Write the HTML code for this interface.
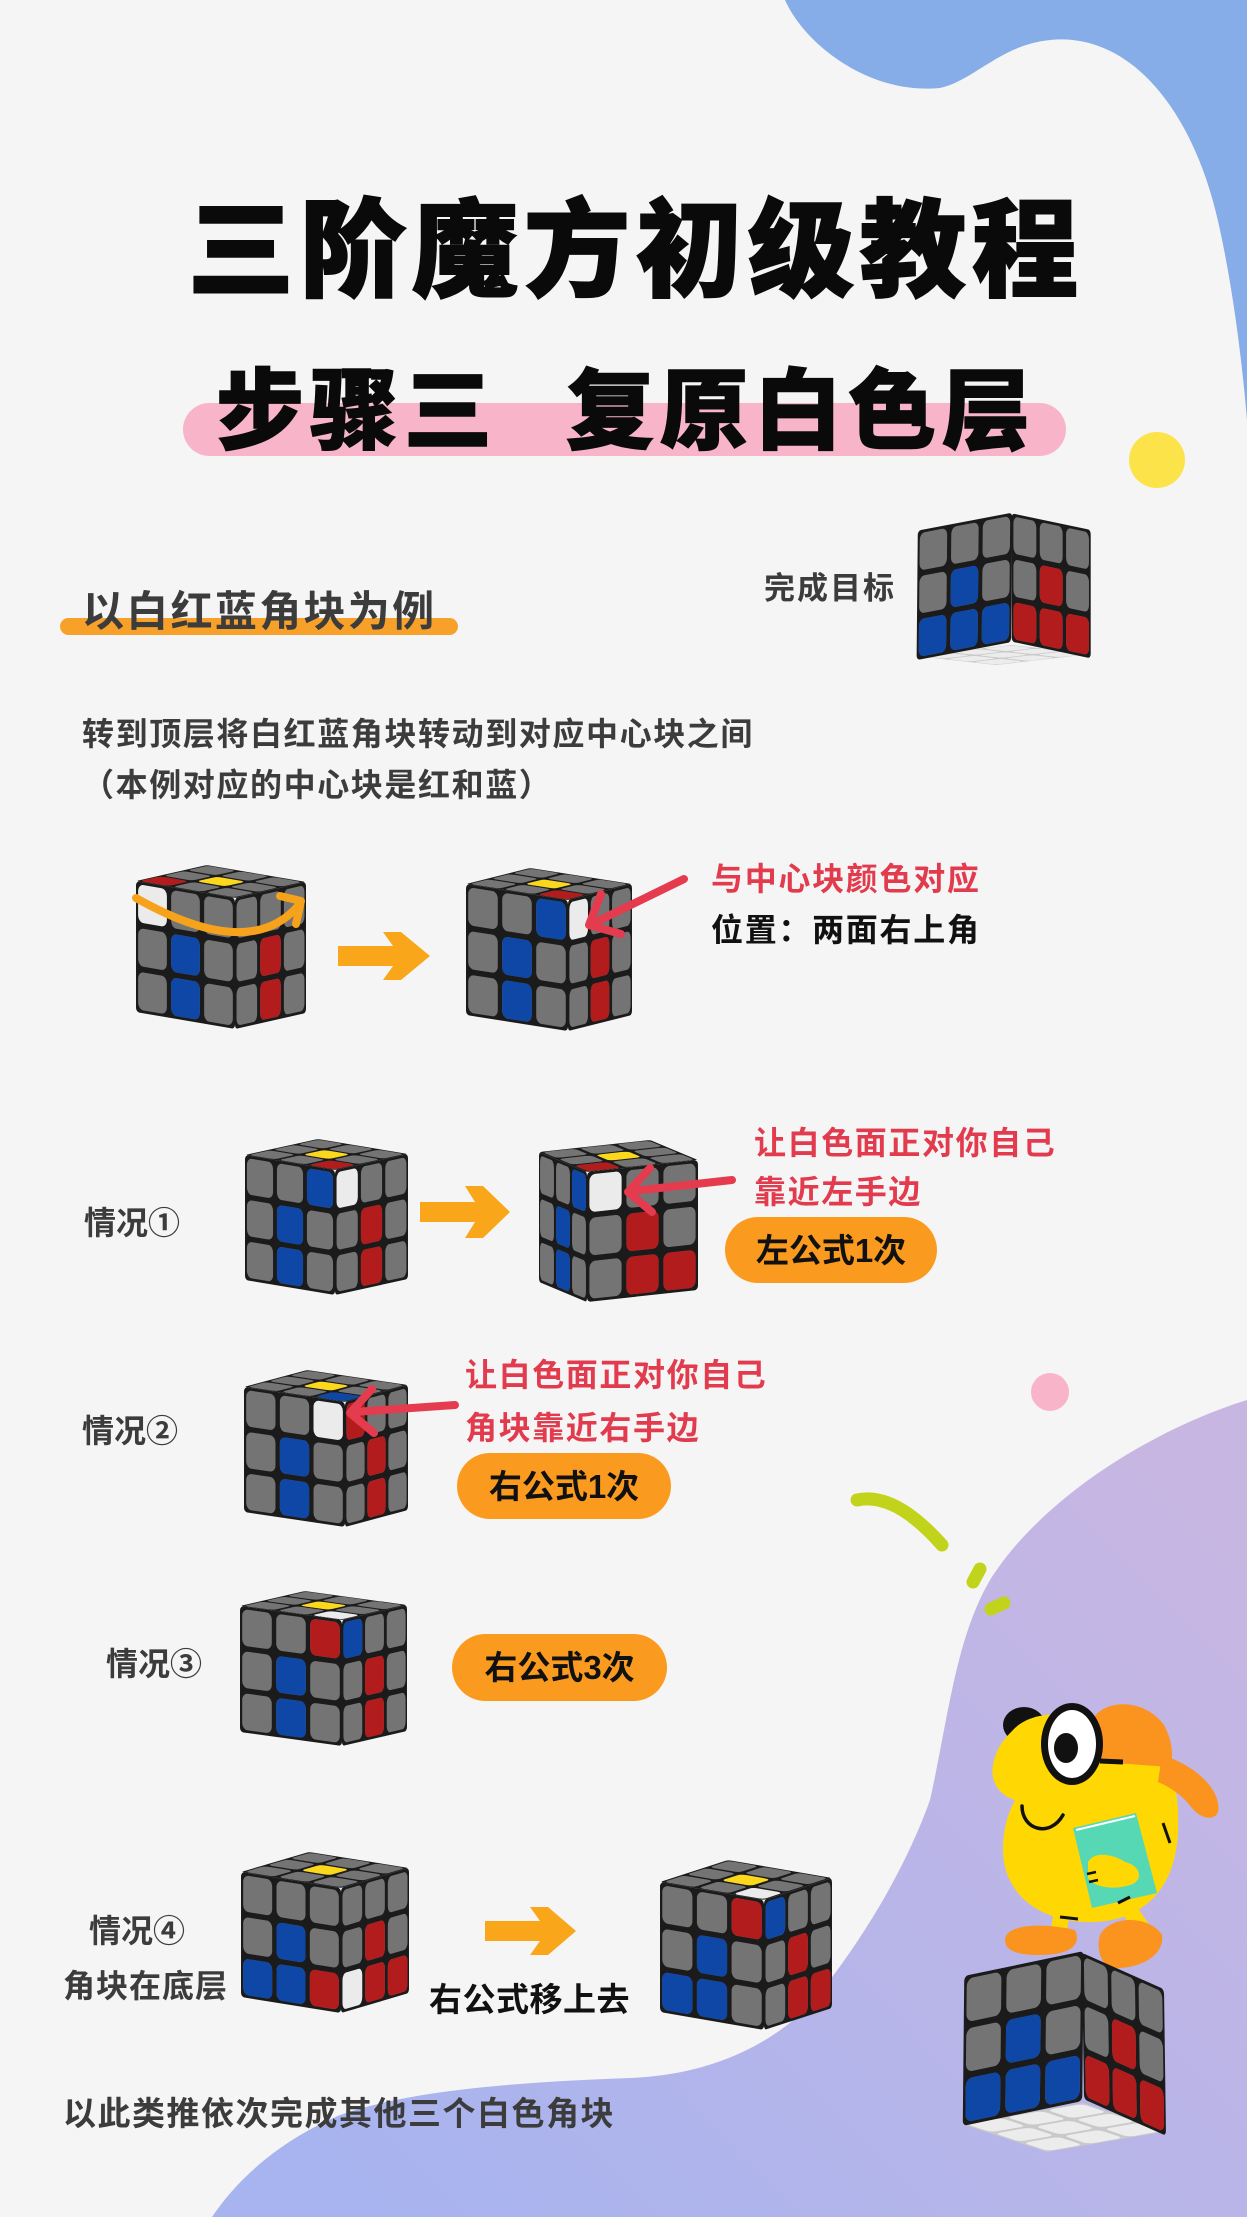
<!DOCTYPE html>
<html><head><meta charset="utf-8">
<style>
html,body{margin:0;padding:0}
body{width:1247px;height:2217px;position:relative;background:#f5f5f5;overflow:hidden;font-family:"Liberation Sans","Noto Sans CJK SC",sans-serif}
svg.bg{position:absolute;left:0;top:0}
.t{position:absolute;white-space:nowrap;line-height:1;font-weight:700}
.g{color:#3c3c3c}
.r{color:#e23b4e}
.k{color:#111}
.pill{position:absolute;background:#fa9b20;border-radius:40px;display:flex;align-items:center;justify-content:center;font-weight:700;font-size:33px;color:#111;line-height:1;white-space:nowrap}
.cb{fill:#0f47a7}.cr{fill:#b31c1c}.cw{fill:#ebebeb}.cy{fill:#fcd81d}
</style></head><body>
<svg class="bg" width="1247" height="2217" viewBox="0 0 1247 2217">
<defs>
<linearGradient id="wg" x1="1150" y1="1420" x2="350" y2="2217" gradientUnits="userSpaceOnUse"><stop offset="0" stop-color="#c8b6e2"/><stop offset="1" stop-color="#a7b4ef"/></linearGradient>
<rect id="s" x=".065" y=".065" width=".87" height=".87" rx=".16"/>
<g id="F" fill="#747474"><rect width="3" height="3" rx=".1" fill="#1b1b1b"/><use href="#s"/><use href="#s" x="1"/><use href="#s" x="2"/><use href="#s" y="1"/><use href="#s" x="1" y="1"/><use href="#s" x="2" y="1"/><use href="#s" y="2"/><use href="#s" x="1" y="2"/><use href="#s" x="2" y="2"/></g>
<g id="Wf" fill="#ececec"><rect width="3" height="3" fill="#c9c9c9"/><use href="#s"/><use href="#s" x="1"/><use href="#s" x="2"/><use href="#s" y="1"/><use href="#s" x="1" y="1"/><use href="#s" x="2" y="1"/><use href="#s" y="2"/><use href="#s" x="1" y="2"/><use href="#s" x="2" y="2"/></g>
</defs>

<path d="M785,0 C805,45 870,95 940,88 C975,80 1000,45 1050,40 C1130,32 1195,110 1220,230 C1233,290 1242,360 1247,420 L1247,0 Z" fill="#86ade8"/>
<path d="M1247,1400 C1150,1430 1040,1500 990,1580 C955,1640 948,1720 930,1800 C905,1870 860,1945 810,2005 C770,2045 710,2075 630,2078 C520,2082 410,2090 340,2115 C285,2138 240,2175 212,2217 L1247,2217 Z" fill="url(#wg)"/>

<rect x="183" y="403" width="883" height="53" rx="26.5" fill="#f8b5ca"/>
<circle cx="1157" cy="460" r="28" fill="#fde34a"/>
<rect x="60" y="618" width="398" height="17" rx="8.5" fill="#f7a12b"/>
<circle cx="1050" cy="1392" r="19" fill="#f8b4c9"/>

<path d="M857,1500 Q894.5,1491.5 942,1545" fill="none" stroke="#c2d31b" stroke-width="13" stroke-linecap="round"/>
<path d="M973,1582 L980,1569" stroke="#c2d31b" stroke-width="13" stroke-linecap="round"/>
<path d="M991,1609 L1004,1603" stroke="#c2d31b" stroke-width="13" stroke-linecap="round"/>

<!-- Target cube -->
<g transform="matrix(-31.667 3.667 26.667 3 1011 645)"><use href="#Wf"/></g>
<g transform="matrix(31.5 -5.967 -0.4 43.167 917.8 530.6)"><use href="#F"/><use href="#s" x="1" y="1" class="cb"/><use href="#s" y="2" class="cb"/><use href="#s" x="1" y="2" class="cb"/><use href="#s" x="2" y="2" class="cb"/></g>
<g transform="matrix(26.333 5.55 0 42.783 1011.7 513.3)"><use href="#F"/><use href="#s" x="1" y="1" class="cr"/><use href="#s" y="2" class="cr"/><use href="#s" x="1" y="2" class="cr"/><use href="#s" x="2" y="2" class="cr"/></g>

<!-- Cube1 -->
<g transform="matrix(33 5.667 -23.667 5.333 207 865)"><use href="#F"/><use href="#s" y="2" class="cr"/><use href="#s" x="1" y="1" class="cy"/></g>
<g transform="matrix(33 5.667 0 43.667 136 881)"><use href="#F"/><use href="#s" class="cw"/><use href="#s" x="1" y="1" class="cb"/><use href="#s" x="1" y="2" class="cb"/></g>
<g transform="matrix(23.667 -5.333 0 43.667 235 898)"><use href="#F"/><use href="#s" x="1" y="1" class="cr"/><use href="#s" x="1" y="2" class="cr"/></g>
<path d="M136,898 Q249,962 298,906" fill="none" stroke="#f6a31b" stroke-width="8" stroke-linecap="round"/>
<polyline points="280,896 301,901 296,924" fill="none" stroke="#f6a31b" stroke-width="8" stroke-linecap="round" stroke-linejoin="round"/>

<!-- Cube2 -->
<g transform="matrix(34 5.333 -21.333 5.333 530 868)"><use href="#F"/><use href="#s" x="2" y="2" class="cr"/><use href="#s" x="1" y="1" class="cy"/></g>
<g transform="matrix(34 5.333 0 43.667 466 884)"><use href="#F"/><use href="#s" x="2" class="cb"/><use href="#s" x="1" y="1" class="cb"/><use href="#s" x="1" y="2" class="cb"/></g>
<g transform="matrix(21.333 -5.333 0 43.667 568 900)"><use href="#F"/><use href="#s" class="cw"/><use href="#s" x="1" y="1" class="cr"/><use href="#s" x="1" y="2" class="cr"/></g>

<!-- Cube A -->
<g transform="matrix(30 5 -24.333 5.333 318 1139)"><use href="#F"/><use href="#s" x="2" y="2" class="cr"/><use href="#s" x="1" y="1" class="cy"/></g>
<g transform="matrix(30 5 0 41.667 245 1155)"><use href="#F"/><use href="#s" x="2" class="cb"/><use href="#s" x="1" y="1" class="cb"/><use href="#s" x="1" y="2" class="cb"/></g>
<g transform="matrix(24.333 -5.333 0 41.667 335 1170)"><use href="#F"/><use href="#s" class="cw"/><use href="#s" x="1" y="1" class="cr"/><use href="#s" x="1" y="2" class="cr"/></g>

<!-- Cube B -->
<g transform="matrix(16 6.667 -37 4 650 1140)"><use href="#F"/><use href="#s" x="2" y="2" class="cr"/><use href="#s" x="1" y="1" class="cy"/></g>
<g transform="matrix(16 6.667 0 43.333 539 1152)"><use href="#F"/><use href="#s" x="2" class="cb"/><use href="#s" x="1" y="1" class="cb"/><use href="#s" x="1" y="2" class="cb"/></g>
<g transform="matrix(37 -4 0 43.333 587 1172)"><use href="#F"/><use href="#s" class="cw"/><use href="#s" x="1" y="1" class="cr"/><use href="#s" x="1" y="2" class="cr"/><use href="#s" x="2" y="2" class="cr"/></g>

<!-- Cube C -->
<g transform="matrix(33.667 5 -21 5.667 307 1370)"><use href="#F"/><use href="#s" x="2" y="2" class="cb"/><use href="#s" x="1" y="1" class="cy"/></g>
<g transform="matrix(33.667 5 0 41.667 244 1387)"><use href="#F"/><use href="#s" x="2" class="cw"/><use href="#s" x="1" y="1" class="cb"/><use href="#s" x="1" y="2" class="cb"/></g>
<g transform="matrix(21 -5.667 0 41.667 345 1402)"><use href="#F"/><use href="#s" class="cr"/><use href="#s" x="1" y="1" class="cr"/><use href="#s" x="1" y="2" class="cr"/></g>

<!-- Cube D -->
<g transform="matrix(34 4.667 -21.667 5 305 1591)"><use href="#F"/><use href="#s" x="2" y="2" class="cw"/><use href="#s" x="1" y="1" class="cy"/></g>
<g transform="matrix(34 4.667 0 42 240 1606)"><use href="#F"/><use href="#s" x="2" class="cr"/><use href="#s" x="1" y="1" class="cb"/><use href="#s" x="1" y="2" class="cb"/></g>
<g transform="matrix(21.667 -5 0 42 342 1620)"><use href="#F"/><use href="#s" class="cb"/><use href="#s" x="1" y="1" class="cr"/><use href="#s" x="1" y="2" class="cr"/></g>

<!-- Cube E -->
<g transform="matrix(33.333 5.333 -22.667 6.667 309 1852)"><use href="#F"/><use href="#s" x="1" y="1" class="cy"/></g>
<g transform="matrix(33.333 5.333 0 41.667 241 1872)"><use href="#F"/><use href="#s" x="1" y="1" class="cb"/><use href="#s" y="2" class="cb"/><use href="#s" x="1" y="2" class="cb"/><use href="#s" x="2" y="2" class="cr"/></g>
<g transform="matrix(22.667 -6.667 0 41.667 341 1888)"><use href="#F"/><use href="#s" x="1" y="1" class="cr"/><use href="#s" y="2" class="cw"/><use href="#s" x="1" y="2" class="cr"/><use href="#s" x="2" y="2" class="cr"/></g>

<!-- Cube F -->
<g transform="matrix(34.667 6 -22.667 7.333 728 1860)"><use href="#F"/><use href="#s" x="2" y="2" class="cw"/><use href="#s" x="1" y="1" class="cy"/></g>
<g transform="matrix(34.667 6 0 43.333 660 1882)"><use href="#F"/><use href="#s" x="2" class="cr"/><use href="#s" x="1" y="1" class="cb"/><use href="#s" y="2" class="cb"/><use href="#s" x="1" y="2" class="cb"/></g>
<g transform="matrix(22.667 -7.333 0 43.333 764 1900)"><use href="#F"/><use href="#s" class="cb"/><use href="#s" x="1" y="1" class="cr"/><use href="#s" x="1" y="2" class="cr"/><use href="#s" x="2" y="2" class="cr"/></g>

<path d="M338,946 H393 L383,932 H401 L430,956 L401,980 H383 L393,966 H338 Z" fill="#f9a61a"/>
<path d="M420,1202 H475 L465,1186 H483 L510,1212 L483,1238 H465 L475,1222 H420 Z" fill="#f9a61a"/>
<path d="M485,1921 H540 L530,1907 H548 L576,1931 L548,1955 H530 L540,1941 H485 Z" fill="#f9a61a"/>

<g fill="none" stroke="#e43b4f" stroke-width="8" stroke-linecap="round" stroke-linejoin="round">
<path d="M684,879 L594,923"/><polyline points="601,894 589,925 621,934"/>
<path d="M732,1180 L632,1191"/><polyline points="650,1168 628,1192 652,1212"/>
<path d="M455,1405 L354,1412"/><polyline points="372,1389 350,1413 374,1433"/>
</g>

<!-- character -->
<ellipse cx="1024" cy="1725" rx="21" ry="18" fill="#111"/>
<path d="M1062,1912 L1057,1940" stroke="#ffd803" stroke-width="16" stroke-linecap="round"/>
<path d="M1124,1902 L1145,1933" stroke="#ffd803" stroke-width="16" stroke-linecap="round"/>
<path d="M1013,1730 C1030,1712 1060,1712 1085,1718 C1140,1708 1180,1760 1178,1820 C1180,1880 1150,1922 1090,1922 C1035,1922 1003,1890 1003,1850 C1003,1825 1010,1810 1015,1800 C998,1795 990,1780 993,1765 C996,1748 1005,1738 1013,1730 Z" fill="#ffd803"/>
<path d="M1088,1738 C1085,1700 1140,1692 1164,1725 C1172,1740 1174,1755 1170,1767 L1100,1762 Z" fill="#fb931f"/>
<path d="M1162,1755 C1195,1765 1222,1790 1218,1812 C1214,1822 1200,1818 1192,1808 C1182,1795 1170,1787 1158,1782 Z" fill="#fb931f"/>
<ellipse cx="1072" cy="1744" rx="31" ry="41" fill="#111"/>
<ellipse cx="1072" cy="1744" rx="24" ry="34" fill="#fff"/>
<ellipse cx="1066" cy="1748" rx="12" ry="15" fill="#111"/>
<path d="M1100,1761 L1123,1762" stroke="#111" stroke-width="5"/>
<path d="M1022,1806 C1022,1830 1050,1838 1063,1815" fill="none" stroke="#111" stroke-width="3.5" stroke-linecap="round"/>
<path d="M1163,1823 L1170,1843" stroke="#111" stroke-width="3"/>
<polygon points="1073,1828 1136,1813 1157,1893 1092,1908" fill="#56d8b5"/>
<path d="M1076,1830 L1135,1816" stroke="#fff" stroke-width="2"/>
<path d="M1088,1862 C1095,1850 1115,1855 1125,1862 C1140,1865 1145,1880 1130,1885 C1115,1890 1095,1888 1088,1878 Z" fill="#ffd803"/>
<path d="M1087,1874 L1096,1872 M1089,1882 L1098,1880" stroke="#111" stroke-width="2.5"/>
<path d="M1060,1917 L1078,1919 M1118,1903 L1130,1897" stroke="#111" stroke-width="3"/>
<path d="M1005,1940 C1005,1925 1040,1922 1075,1930 C1082,1945 1070,1955 1040,1955 C1015,1955 1005,1950 1005,1940 Z" fill="#fb931f"/>
<path d="M1100,1935 C1110,1915 1150,1915 1162,1935 C1165,1955 1140,1970 1110,1968 C1098,1960 1097,1945 1100,1935 Z" fill="#fb931f"/>

<!-- Big cube G -->
<g transform="matrix(-40.333 7 28.333 9.333 1083 2103)"><use href="#Wf"/></g>
<g transform="matrix(39.833 -8.333 -0.5 50 964.25 1976)"><use href="#F"/><use href="#s" x="1" y="1" class="cb"/><use href="#s" y="2" class="cb"/><use href="#s" x="1" y="2" class="cb"/><use href="#s" x="2" y="2" class="cb"/></g>
<g transform="matrix(27.333 12.167 0.667 48.833 1082 1952.75)"><use href="#F"/><use href="#s" x="1" y="1" class="cr"/><use href="#s" y="2" class="cr"/><use href="#s" x="1" y="2" class="cr"/><use href="#s" x="2" y="2" class="cr"/></g>
</svg>

<div class="t" style="left:188px;top:199px;font-size:106px;letter-spacing:6px;font-weight:900;color:#0a0a0a;-webkit-text-stroke:2px #0a0a0a">三阶魔方初级教程</div>
<div class="t" style="left:216px;top:368px;font-size:88px;letter-spacing:6px;font-weight:900;color:#0a0a0a;-webkit-text-stroke:1.5px #0a0a0a">步骤三</div>
<div class="t" style="left:566px;top:368px;font-size:88px;letter-spacing:6px;font-weight:900;color:#0a0a0a;-webkit-text-stroke:1.5px #0a0a0a">复原白色层</div>

<div class="t g" style="left:82px;top:591px;font-size:42px;letter-spacing:2.3px">以白红蓝角块为例</div>
<div class="t g" style="left:764px;top:573px;font-size:31px;letter-spacing:2px">完成目标</div>
<div class="t g" style="left:82px;top:718px;font-size:32px;letter-spacing:1.6px">转到顶层将白红蓝角块转动到对应中心块之间</div>
<div class="t g" style="left:82px;top:769px;font-size:32px;letter-spacing:1.6px">（本例对应的中心块是红和蓝）</div>

<div class="t r" style="left:711px;top:863px;font-size:32px;letter-spacing:1.7px">与中心块颜色对应</div>
<div class="t k" style="left:711px;top:914px;font-size:32px;letter-spacing:1.7px">位置：两面右上角</div>

<div class="t g" style="left:84px;top:1207px;font-size:32px">情况①</div>
<div class="t r" style="left:754px;top:1127px;font-size:32px;letter-spacing:1.6px">让白色面正对你自己</div>
<div class="t r" style="left:754px;top:1176px;font-size:32px;letter-spacing:1.6px">靠近左手边</div>
<div class="pill" style="left:725px;top:1217px;width:212px;height:66px">左公式1次</div>

<div class="t g" style="left:82px;top:1415px;font-size:32px">情况②</div>
<div class="t r" style="left:465px;top:1359px;font-size:32px;letter-spacing:1.6px">让白色面正对你自己</div>
<div class="t r" style="left:465px;top:1412px;font-size:32px;letter-spacing:1.6px">角块靠近右手边</div>
<div class="pill" style="left:457px;top:1453px;width:214px;height:66px">右公式1次</div>

<div class="t g" style="left:106px;top:1648px;font-size:32px">情况③</div>
<div class="pill" style="left:452px;top:1634px;width:215px;height:67px">右公式3次</div>

<div class="t g" style="left:89px;top:1915px;font-size:32px">情况④</div>
<div class="t g" style="left:63px;top:1970px;font-size:32px;letter-spacing:1px">角块在底层</div>
<div class="t k" style="left:429px;top:1983px;font-size:33px;letter-spacing:0.5px">右公式移上去</div>

<div class="t g" style="left:63px;top:2097px;font-size:33px;letter-spacing:1.5px">以此类推依次完成其他三个白色角块</div>
</body></html>
